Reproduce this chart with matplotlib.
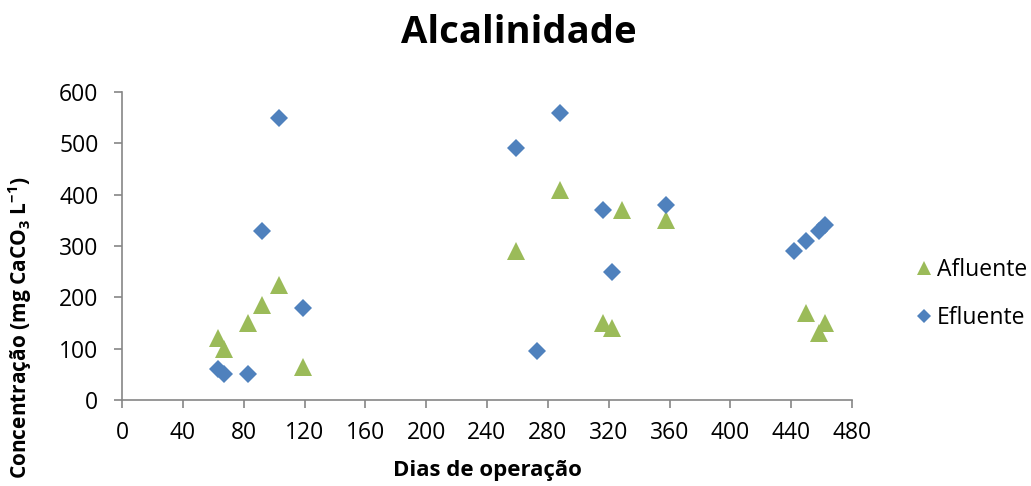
import matplotlib
matplotlib.use("Agg")
import matplotlib.pyplot as plt

plt.rcParams['font.family'] = ['Open Sans', 'DejaVu Sans']
plt.rcParams['mathtext.fontset'] = 'custom'
plt.rcParams['mathtext.rm'] = 'Open Sans'
plt.rcParams['mathtext.bf'] = 'Open Sans:bold'

# Afluente (influent) alkalinity
afl_dias = [63, 67, 83, 92, 103, 119, 259, 288, 316, 322, 329, 358, 450, 458, 462]
afl_conc = [120, 100, 150, 185, 225, 65, 290, 410, 150, 140, 370, 350, 170, 130, 150]

# Efluente (effluent) alkalinity
efl_dias = [63, 67, 83, 92, 103, 119, 259, 273, 288, 316, 322, 358, 442, 450, 458, 462]
efl_conc = [60, 50, 50, 330, 550, 180, 490, 95, 560, 370, 250, 380, 290, 310, 330, 340]

x_ticks = list(range(0, 481, 40))
y_ticks = list(range(0, 601, 100))

W, H = 1031, 486
fig = plt.figure(figsize=(W / 100, H / 100), dpi=100)
ax = fig.add_axes([122 / W, 1 - 400 / H, (852 - 122) / W, (400 - 92) / H])

green = '#9BBB59'
blue = '#4F81BD'

ax.plot(afl_dias, afl_conc, linestyle='none', marker='^', markersize=13.4,
        color=green, markeredgewidth=0, label='Afluente', clip_on=False)
ax.plot(efl_dias, efl_conc, linestyle='none', marker='D', markersize=9.2,
        color=blue, markeredgewidth=0, label='Efluente', clip_on=False)

ax.set_xlim(0, 480)
ax.set_ylim(0, 600)
ax.set_xticks(x_ticks)
ax.set_yticks(y_ticks)

for side in ('top', 'right'):
    ax.spines[side].set_visible(False)
for side in ('left', 'bottom'):
    ax.spines[side].set_color('#868686')
    ax.spines[side].set_linewidth(1.2)
ax.tick_params(axis='both', direction='out', length=6, width=1.2,
               color='#868686', labelsize=16.5, labelcolor='black')
ax.tick_params(axis='x', pad=9)
ax.tick_params(axis='y', pad=11)

ax.set_xlabel('Dias de operação', fontsize=16, fontweight='bold')
ax.xaxis.set_label_coords(0.5, -0.195)
ax.set_ylabel('Concentração (mg CaCO$_\\mathbf{3}$ L$^\\mathbf{-1}$)',
              fontsize=15, fontweight='bold')
ax.yaxis.set_label_coords(-0.12, 0.235)

fig.text(519 / W, 1 - 33 / H, 'Alcalinidade', fontsize=27.5, fontweight='bold',
         ha='center', va='center')

leg = ax.legend(loc='center left', bbox_to_anchor=(1.071, 0.345), frameon=False,
                fontsize=16.5, handletextpad=0.05, labelspacing=1.05,
                borderaxespad=0, handlelength=1.0, markerscale=0.8)

fig.savefig('out.png', dpi=100)
